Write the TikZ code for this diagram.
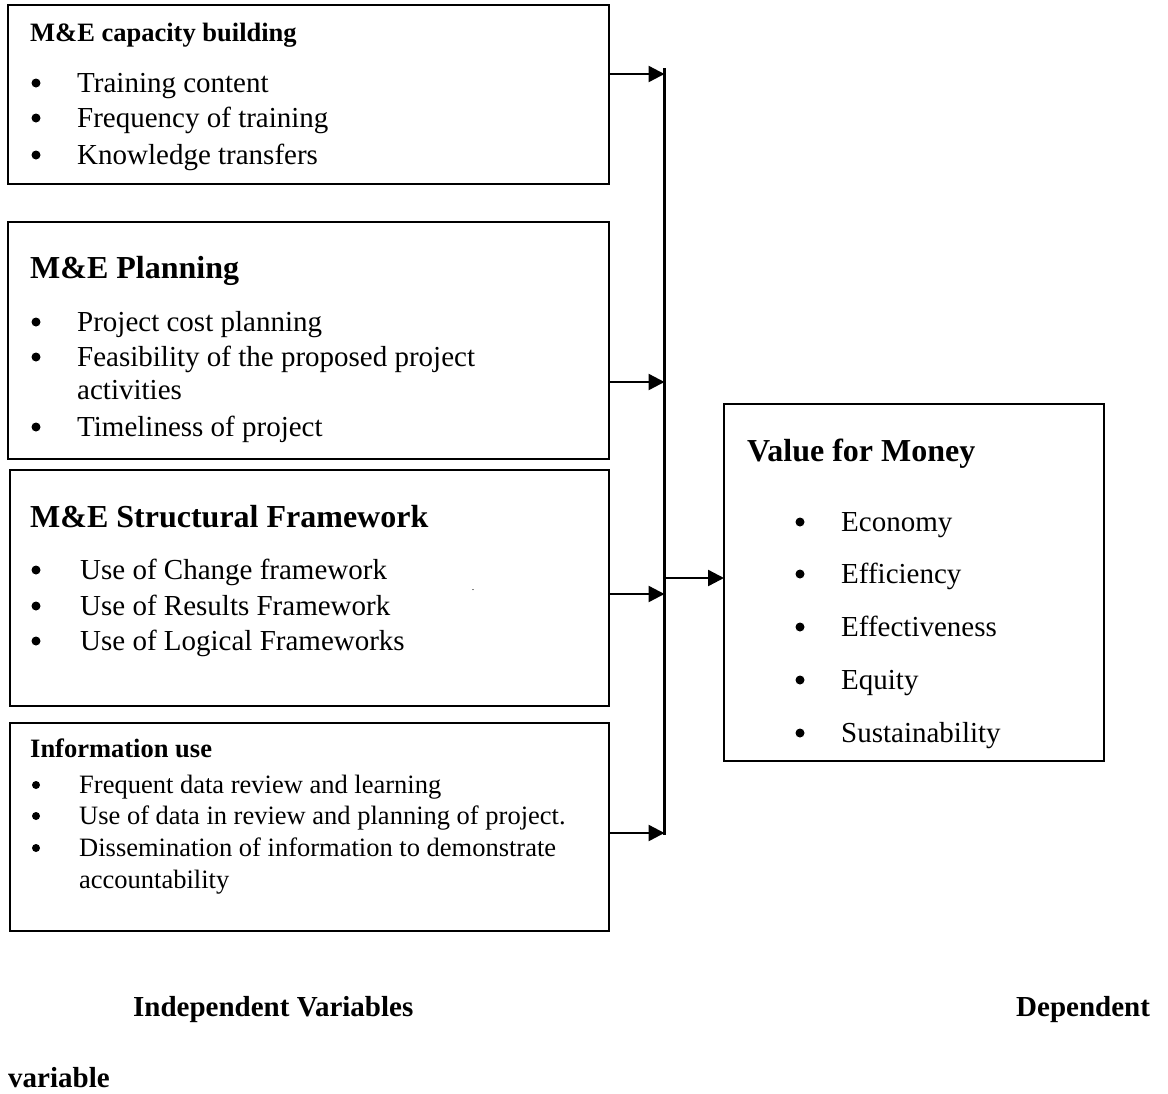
\documentclass[tikz,border=0pt]{standalone}
\usepackage{fontspec}
\setmainfont{Liberation Serif}
\usetikzlibrary{arrows.meta}
\tikzset{
  box/.style={draw, line width=1.8pt, rectangle, inner sep=0pt, outer sep=0pt},
  itm/.style={anchor=base west, inner sep=0pt, font=\fontsize{29}{36}\selectfont},
  sitm/.style={anchor=base west, inner sep=0pt, font=\fontsize{26.5}{31}\selectfont},
  bul/.style={circle, fill=black, inner sep=0pt, minimum size=9pt},
  sbul/.style={circle, fill=black, inner sep=0pt, minimum size=8pt},
  hbig/.style={anchor=base west, inner sep=0pt, font=\fontsize{32}{38}\selectfont\bfseries},
  hsmall/.style={anchor=base west, inner sep=0pt, font=\fontsize{26.5}{31}\selectfont\bfseries},
  lab/.style={anchor=base west, inner sep=0pt, font=\fontsize{29}{36}\selectfont\bfseries},
  arr/.style={line width=2.4pt, -{Triangle[length=16pt,width=16pt]}},
  spine/.style={line width=2.2pt},
}
\begin{document}
\begin{tikzpicture}[x=1pt,y=-1pt]
\useasboundingbox (0,0) rectangle (1168,1093);
% boxes
\node[box, minimum width=601pt, minimum height=179pt] (b1) at (308.5,94.5) {};
\node[box, minimum width=601pt, minimum height=237pt] (b2) at (308.5,340.5) {};
\node[box, minimum width=599pt, minimum height=236pt] (b3) at (309.5,588) {};
\node[box, minimum width=599pt, minimum height=208pt] (b4) at (309.5,827) {};
\node[box, minimum width=380pt, minimum height=357pt] (vfm) at (914,582.5) {};
% box 1
\node[hsmall] (h1) at (30,41) {M\&E capacity building};
\node[bul] (p11) at (36,83) {};  \node[itm] (t11) at (77,92) {Training content};
\node[bul] (p12) at (36,118) {}; \node[itm] (t12) at (77,127) {Frequency of training};
\node[bul] (p13) at (36,155) {}; \node[itm] (t13) at (77,164) {Knowledge transfers};
% box 2
\node[hbig] (h2) at (30,278) {M\&E Planning};
\node[bul] (p21) at (36,322) {}; \node[itm] (t21) at (77,331) {Project cost planning};
\node[bul] (p22) at (36,357) {}; \node[itm] (t22) at (77,366) {Feasibility of the proposed project};
\node[itm] (t22b) at (77,399) {activities};
\node[bul] (p23) at (36,427) {}; \node[itm] (t23) at (77,436) {Timeliness of project};
% box 3
\node[hbig] (h3) at (30,527) {M\&E Structural Framework};
\node[bul] (p31) at (36,570) {}; \node[itm] (t31) at (80,579) {Use of Change framework};
\node[bul] (p32) at (36,606) {}; \node[itm] (t32) at (80,615) {Use of Results Framework};
\node[bul] (p33) at (36,641) {}; \node[itm] (t33) at (80,650) {Use of Logical Frameworks};
\node[anchor=base, inner sep=0pt, font=\fontsize{10}{12}\selectfont] (dot) at (473,590) {.};
% box 4
\node[hsmall] (h4) at (30,757) {Information use};
\node[sbul] (p41) at (36,785) {}; \node[sitm] (t41) at (79,793) {Frequent data review and learning};
\node[sbul] (p42) at (36,816) {}; \node[sitm] (t42) at (79,824) {Use of data in review and planning of project.};
\node[sbul] (p43) at (36,848) {}; \node[sitm] (t43) at (79,856) {Dissemination of information to demonstrate};
\node[sitm] (t43b) at (79,888) {accountability};
% value for money
\node[hbig] (hv) at (747,461) {Value for Money};
\node[bul] (v1) at (800,522) {}; \node[itm] (w1) at (841,531) {Economy};
\node[bul] (v2) at (800,574) {}; \node[itm] (w2) at (841,583) {Efficiency};
\node[bul] (v3) at (800,627) {}; \node[itm] (w3) at (841,636) {Effectiveness};
\node[bul] (v4) at (800,680) {}; \node[itm] (w4) at (841,689) {Equity};
\node[bul] (v5) at (800,733) {}; \node[itm] (w5) at (841,742) {Sustainability};
% labels
\node[lab] (li) at (133,1016) {Independent Variables};
\node[lab] (ld) at (1016,1016) {Dependent};
\node[lab] (lv) at (8,1087) {variable};
% connectors
\coordinate (top) at (664.5,68);
\coordinate (bot) at (664.5,835);
\coordinate (j1) at (664.5,74);
\coordinate (j2) at (664.5,382);
\coordinate (j3) at (664.5,594);
\coordinate (j4) at (664.5,833);
\coordinate (jv) at (664.5,578);
\draw[spine] (top) -- (bot);
\draw[arr] (b1.east |- j1) -- (j1);
\draw[arr] (b2.east |- j2) -- (j2);
\draw[arr] (b3.east |- j3) -- (j3);
\draw[arr] (b4.east |- j4) -- (j4);
\draw[arr] (jv) -- (vfm.west |- jv);
\end{tikzpicture}
\end{document}
